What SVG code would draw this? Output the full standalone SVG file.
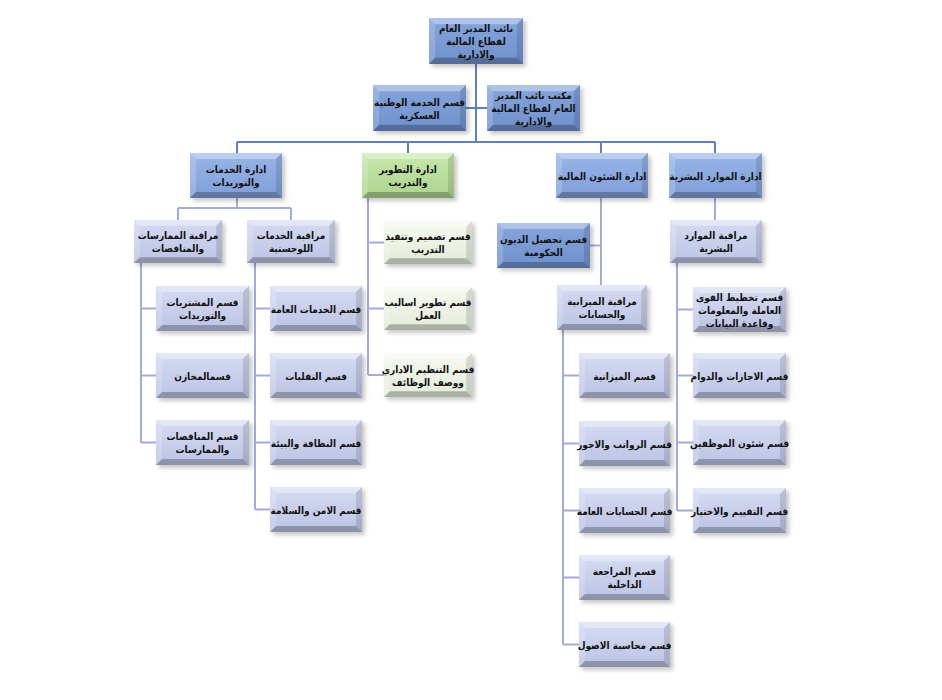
<svg xmlns="http://www.w3.org/2000/svg" xmlns:xlink="http://www.w3.org/1999/xlink" width="942" height="700" viewBox="0 0 942 700">
<defs>
<linearGradient id="gDark" x1="0" y1="0" x2="0" y2="1"><stop offset="0" stop-color="#86a5dc"/><stop offset="1" stop-color="#7090cc"/></linearGradient>
<linearGradient id="gBlue" x1="0" y1="0" x2="0" y2="1"><stop offset="0" stop-color="#98b5e8"/><stop offset="1" stop-color="#809ed8"/></linearGradient>
<linearGradient id="gGreen" x1="0" y1="0" x2="0" y2="1"><stop offset="0" stop-color="#c8e8ad"/><stop offset="1" stop-color="#acd48e"/></linearGradient>
<linearGradient id="gLav" x1="0" y1="0" x2="0" y2="1"><stop offset="0" stop-color="#d6dbf2"/><stop offset="1" stop-color="#bcc3e4"/></linearGradient>
<linearGradient id="gPale" x1="0" y1="0" x2="0" y2="1"><stop offset="0" stop-color="#f6f9f2"/><stop offset="1" stop-color="#e2ebd9"/></linearGradient>
<filter id="blur" x="-20%" y="-20%" width="140%" height="140%"><feGaussianBlur stdDeviation="2"/></filter>
<symbol id="bev" viewBox="0 0 92 45" preserveAspectRatio="none">
<polygon points="0,0 92,0 86,6 6,6" fill="#ffffff" fill-opacity="0.35"/>
<polygon points="0,0 6,6 6,39 0,45" fill="#ffffff" fill-opacity="0.18"/>
<polygon points="92,0 92,45 86,39 86,6" fill="#000000" fill-opacity="0.12"/>
<polygon points="0,45 92,45 86,39 6,39" fill="#000000" fill-opacity="0.25"/>
</symbol>
</defs>
<style>
.sh{fill:#000;fill-opacity:0.22;filter:url(#blur)}
.dark{fill:url(#gDark)}
.blue{fill:url(#gBlue)}
.green{fill:url(#gGreen)}
.lav{fill:url(#gLav)}
.pale{fill:url(#gPale)}
text{font-family:"DejaVu Sans Condensed","DejaVu Sans",sans-serif;font-size:10px;font-weight:bold;fill:#111;text-anchor:middle}
.c1{stroke:#6080bb;stroke-width:2;fill:none}
.c2{stroke:#a3acd9;stroke-width:2;fill:none}
</style>
<rect width="942" height="700" fill="#ffffff"/>
<g id="connectors">
<path class="c1" d="M476,63V142M466,108H487M237,142H715M237,142V153M408,142V153M601,142V153M715,142V153"/>
<path class="c2" d="M237,198V208M178,208H291M178,208V220M291,208V220"/>
<path class="c2" d="M141,263V442.5M141,308.5H156M141,375.5H156M141,442.5H156"/>
<path class="c2" d="M255,263V509.5M255,308.5H270M255,375.5H270M255,442.5H270M255,509.5H270"/>
<path class="c2" d="M368,198V375M368,242.5H384M368,308.5H384M368,375H384"/>
<path class="c2" d="M601,198V285M590,245.5H601"/>
<path class="c2" d="M563,330V644.5M563,375.5H579M563,443.5H579M563,510.5H579M563,577.5H579M563,644.5H579"/>
<path class="c2" d="M715,198V220M677,263V510.5M677,309.5H693M677,375.5H693M677,442.5H693M677,510.5H693"/>
</g>
<g id="n_top"><rect class="sh" x="432" y="21" width="94" height="46"/><rect class="dark" x="429" y="18" width="94" height="46"/><use xlink:href="#bev" x="429" y="18" width="94" height="46"/><text x="476" y="32">نائب المدير العام</text><text x="476" y="45">لقطاع المالية</text><text x="476" y="58">والادارية</text></g>
<g id="n_mil"><rect class="sh" x="376" y="88" width="93" height="46"/><rect class="dark" x="373" y="85" width="93" height="46"/><use xlink:href="#bev" x="373" y="85" width="93" height="46"/><text x="419.5" y="105.5">قسم الخدمة الوطنية</text><text x="419.5" y="118.5">العسكرية</text></g>
<g id="n_office"><rect class="sh" x="490" y="88" width="93" height="46"/><rect class="dark" x="487" y="85" width="93" height="46"/><use xlink:href="#bev" x="487" y="85" width="93" height="46"/><text x="533.5" y="99">مكتب نائب المدير</text><text x="533.5" y="112">العام لقطاع المالية</text><text x="533.5" y="125">والادارية</text></g>
<g id="n_dserv"><rect class="sh" x="193" y="156" width="92" height="45"/><rect class="blue" x="190" y="153" width="92" height="45"/><use xlink:href="#bev" x="190" y="153" width="92" height="45"/><text x="236" y="173">ادارة الخدمات</text><text x="236" y="186">والتوريدات</text></g>
<g id="n_dtrain"><rect class="sh" x="365" y="156" width="92" height="45"/><rect class="green" x="362" y="153" width="92" height="45"/><use xlink:href="#bev" x="362" y="153" width="92" height="45"/><text x="408" y="173">ادارة التطوير</text><text x="408" y="186">والتدريب</text></g>
<g id="n_dfin"><rect class="sh" x="559" y="156" width="92" height="45"/><rect class="blue" x="556" y="153" width="92" height="45"/><use xlink:href="#bev" x="556" y="153" width="92" height="45"/><text x="602" y="179.5">ادارة الشئون المالية</text></g>
<g id="n_dhr"><rect class="sh" x="672" y="156" width="93" height="45"/><rect class="blue" x="669" y="153" width="93" height="45"/><use xlink:href="#bev" x="669" y="153" width="93" height="45"/><text x="715.5" y="179.5">ادارة الموارد البشرية</text></g>
<g id="n_mtend"><rect class="sh" x="137" y="223" width="88" height="43"/><rect class="lav" x="134" y="220" width="88" height="43"/><use xlink:href="#bev" x="134" y="220" width="88" height="43"/><text x="178" y="239">مراقبة الممارسات</text><text x="178" y="252">والمناقصات</text></g>
<g id="n_mlog"><rect class="sh" x="250" y="223" width="88" height="43"/><rect class="lav" x="247" y="220" width="88" height="43"/><use xlink:href="#bev" x="247" y="220" width="88" height="43"/><text x="291" y="239">مراقبة الخدمات</text><text x="291" y="252">اللوجستية</text></g>
<g id="n_debt"><rect class="sh" x="500" y="226" width="93" height="45"/><rect class="dark" x="497" y="223" width="93" height="45"/><use xlink:href="#bev" x="497" y="223" width="93" height="45"/><text x="543.5" y="243">قسم تحصيل الديون</text><text x="543.5" y="256">الحكومية</text></g>
<g id="n_mbudget"><rect class="sh" x="560" y="288" width="90" height="45"/><rect class="lav" x="557" y="285" width="90" height="45"/><use xlink:href="#bev" x="557" y="285" width="90" height="45"/><text x="602" y="305">مراقبة الميزانية</text><text x="602" y="318">والحسابات</text></g>
<g id="n_mhr"><rect class="sh" x="673" y="223" width="92" height="43"/><rect class="lav" x="670" y="220" width="92" height="43"/><use xlink:href="#bev" x="670" y="220" width="92" height="43"/><text x="716" y="239">مراقبة الموارد</text><text x="716" y="252">البشرية</text></g>
<g id="n_g1"><rect class="sh" x="387" y="224" width="88" height="43"/><rect class="pale" x="384" y="221" width="88" height="43"/><use xlink:href="#bev" x="384" y="221" width="88" height="43"/><text x="428" y="240">قسم تصميم وتنفيذ</text><text x="428" y="253">التدريب</text></g>
<g id="n_g2"><rect class="sh" x="387" y="290" width="88" height="43"/><rect class="pale" x="384" y="287" width="88" height="43"/><use xlink:href="#bev" x="384" y="287" width="88" height="43"/><text x="428" y="306">قسم تطوير اساليب</text><text x="428" y="319">العمل</text></g>
<g id="n_g3"><rect class="sh" x="387" y="356" width="88" height="44"/><rect class="pale" x="384" y="353" width="88" height="44"/><use xlink:href="#bev" x="384" y="353" width="88" height="44"/><text x="428" y="372.5">قسم التنظيم الاداري</text><text x="428" y="385.5">ووصف الوظائف</text></g>
<g id="n_t1"><rect class="sh" x="159" y="289" width="93" height="45"/><rect class="lav" x="156" y="286" width="93" height="45"/><use xlink:href="#bev" x="156" y="286" width="93" height="45"/><text x="202.5" y="306">قسم المشتريات</text><text x="202.5" y="319">والتوريدات</text></g>
<g id="n_t2"><rect class="sh" x="159" y="356" width="93" height="45"/><rect class="lav" x="156" y="353" width="93" height="45"/><use xlink:href="#bev" x="156" y="353" width="93" height="45"/><text x="202.5" y="379.5">قسمالمخازن</text></g>
<g id="n_t3"><rect class="sh" x="159" y="423" width="93" height="45"/><rect class="lav" x="156" y="420" width="93" height="45"/><use xlink:href="#bev" x="156" y="420" width="93" height="45"/><text x="202.5" y="440">قسم المناقصات</text><text x="202.5" y="453">والممارسات</text></g>
<g id="n_l1"><rect class="sh" x="273" y="289" width="92" height="45"/><rect class="lav" x="270" y="286" width="92" height="45"/><use xlink:href="#bev" x="270" y="286" width="92" height="45"/><text x="316" y="312.5">قسم الخدمات العامة</text></g>
<g id="n_l2"><rect class="sh" x="273" y="356" width="92" height="45"/><rect class="lav" x="270" y="353" width="92" height="45"/><use xlink:href="#bev" x="270" y="353" width="92" height="45"/><text x="316" y="379.5">قسم النقليات</text></g>
<g id="n_l3"><rect class="sh" x="273" y="423" width="92" height="45"/><rect class="lav" x="270" y="420" width="92" height="45"/><use xlink:href="#bev" x="270" y="420" width="92" height="45"/><text x="316" y="446.5">قسم النظافة والبيئة</text></g>
<g id="n_l4"><rect class="sh" x="273" y="490" width="92" height="45"/><rect class="lav" x="270" y="487" width="92" height="45"/><use xlink:href="#bev" x="270" y="487" width="92" height="45"/><text x="316" y="513.5">قسم الامن والسلامة</text></g>
<g id="n_f1"><rect class="sh" x="582" y="356" width="91" height="45"/><rect class="lav" x="579" y="353" width="91" height="45"/><use xlink:href="#bev" x="579" y="353" width="91" height="45"/><text x="624.5" y="379.5">قسم الميزانية</text></g>
<g id="n_f2"><rect class="sh" x="582" y="424" width="91" height="45"/><rect class="lav" x="579" y="421" width="91" height="45"/><use xlink:href="#bev" x="579" y="421" width="91" height="45"/><text x="624.5" y="447.5">قسم الرواتب والاجور</text></g>
<g id="n_f3"><rect class="sh" x="582" y="491" width="91" height="45"/><rect class="lav" x="579" y="488" width="91" height="45"/><use xlink:href="#bev" x="579" y="488" width="91" height="45"/><text x="624.5" y="514.5">قسم الحسابات العامة</text></g>
<g id="n_f4"><rect class="sh" x="582" y="558" width="91" height="45"/><rect class="lav" x="579" y="555" width="91" height="45"/><use xlink:href="#bev" x="579" y="555" width="91" height="45"/><text x="624.5" y="575">قسم المراجعة</text><text x="624.5" y="588">الداخلية</text></g>
<g id="n_f5"><rect class="sh" x="582" y="625" width="91" height="45"/><rect class="lav" x="579" y="622" width="91" height="45"/><use xlink:href="#bev" x="579" y="622" width="91" height="45"/><text x="624.5" y="648.5">قسم محاسبة الاصول</text></g>
<g id="n_h1"><rect class="sh" x="696" y="290" width="93" height="45"/><rect class="lav" x="693" y="287" width="93" height="45"/><use xlink:href="#bev" x="693" y="287" width="93" height="45"/><text x="739.5" y="300.5">قسم تخطيط القوى</text><text x="739.5" y="313.5">العاملة والمعلومات</text><text x="739.5" y="326.5">وقاعدة البيانات</text></g>
<g id="n_h2"><rect class="sh" x="696" y="356" width="93" height="45"/><rect class="lav" x="693" y="353" width="93" height="45"/><use xlink:href="#bev" x="693" y="353" width="93" height="45"/><text x="739.5" y="379.5">قسم الاجازات والدوام</text></g>
<g id="n_h3"><rect class="sh" x="696" y="423" width="93" height="45"/><rect class="lav" x="693" y="420" width="93" height="45"/><use xlink:href="#bev" x="693" y="420" width="93" height="45"/><text x="739.5" y="446.5">قسم شئون الموظفين</text></g>
<g id="n_h4"><rect class="sh" x="696" y="491" width="93" height="45"/><rect class="lav" x="693" y="488" width="93" height="45"/><use xlink:href="#bev" x="693" y="488" width="93" height="45"/><text x="739.5" y="514.5">قسم التقييم والاختيار</text></g>
</svg>
